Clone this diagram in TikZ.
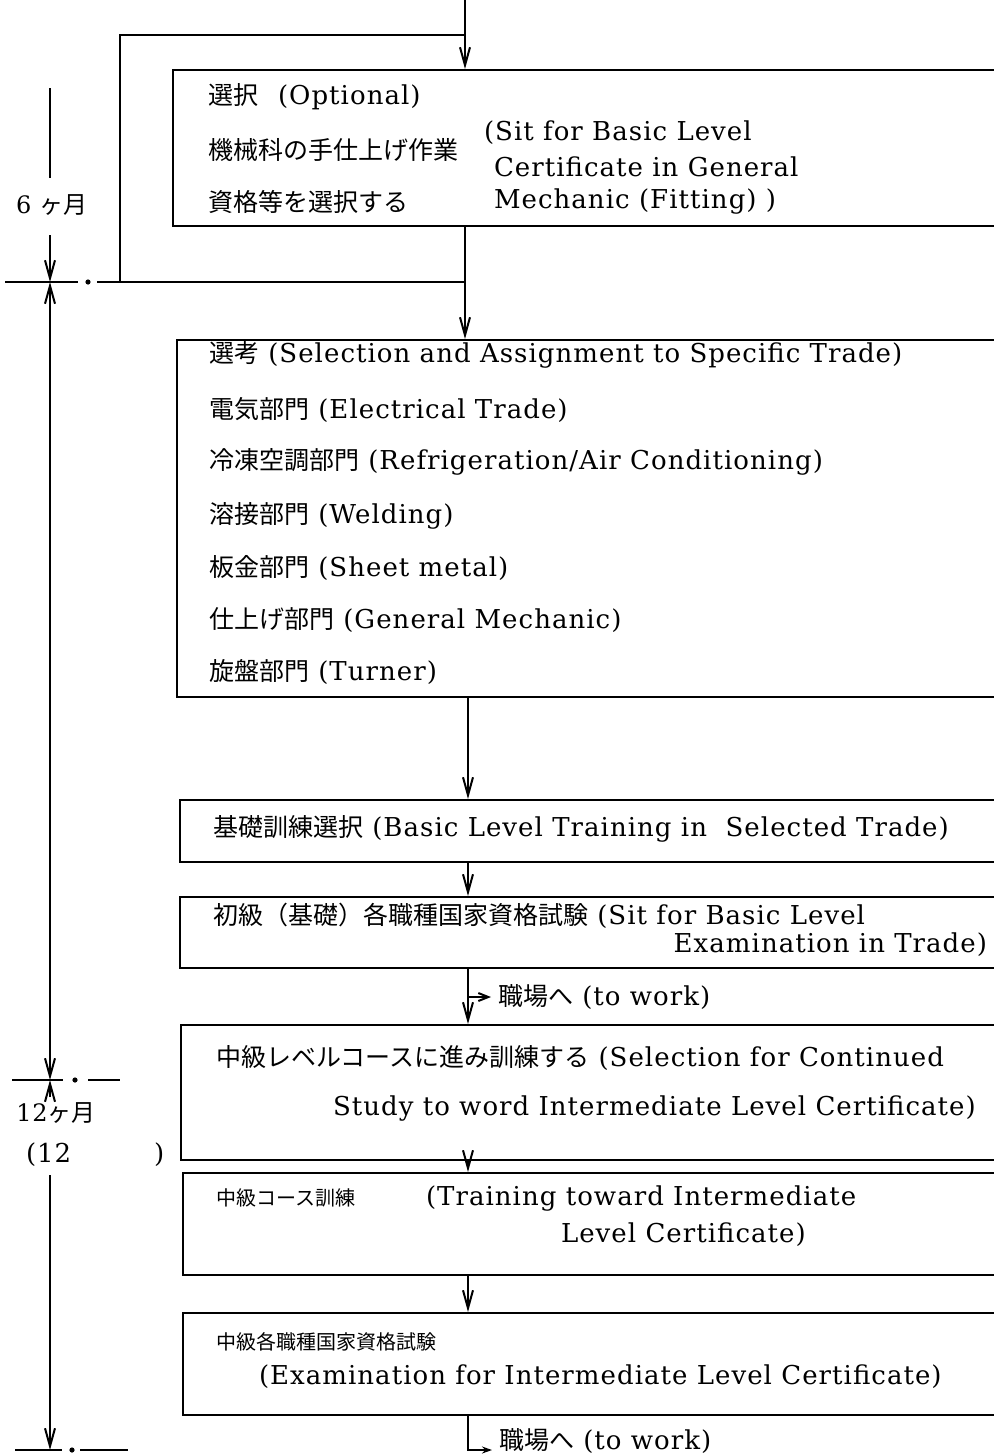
\documentclass[tikz,border=0pt]{standalone}
\usepackage{fontspec}
\setmainfont{DejaVu Serif}[LetterSpace=4]
\newfontfamily\jpfont{Noto Sans CJK JP}
\usetikzlibrary{arrows.meta,fit}
\newcommand\jtxt[1]{{\jpfont\fontsize{12.5}{14}\selectfont #1}}
\newcommand\jsml[1]{{\jpfont\fontsize{10}{12}\selectfont #1}}
\begin{document}
\begin{tikzpicture}[x=0.5pt,y=-0.5pt,line width=1pt,
  box/.style={draw,inner sep=0pt,line width=1pt},
  txt/.style={anchor=west,inner sep=0pt,font=\fontsize{13}{15}\selectfont},
  txe/.style={anchor=east,inner sep=0pt,font=\fontsize{13}{15}\selectfont},
  tl/.style={inner sep=0pt,font=\fontsize{12}{14}\selectfont},
  arr/.style={-{Straight Barb[length=9pt,width=5pt]}},
  arrb/.style={{Straight Barb[length=9pt,width=5pt]}-{Straight Barb[length=9pt,width=5pt]}},
  sarr/.style={-{Straight Barb[length=5pt,width=4pt]}}]
\useasboundingbox (0,0) rectangle (994,1456);

% boxes (open to the right edge)
\node[box,fit={(173,70)(1000,226)}] (b1) {};
\node[box,fit={(177,340)(1000,697)}] (b2) {};
\node[box,fit={(180,800)(1000,862)}] (b3) {};
\node[box,fit={(180,897)(1000,968)}] (b4) {};
\node[box,fit={(181,1025)(1000,1160)}] (b5) {};
\node[box,fit={(183,1173)(1000,1275)}] (b6) {};
\node[box,fit={(183,1313)(1000,1415)}] (b7) {};

% box 1 text
\node[txt] (t11) at (207,97) {\jtxt{選択}\hspace{10pt}(Optional)};
\node[txt] (t12) at (207,150) {\jtxt{機械科の手仕上げ作業}};
\node[txt] (t13) at (207,202) {\jtxt{資格等を選択する}};
\node[txt] (t14) at (483,133) {(Sit for Basic Level};
\node[txt] (t15) at (493,167) {Certificate in General};
\node[txt] (t16) at (493,202) {Mechanic (Fitting) )};

% box 2 text
\node[txt] (t21) at (208,355) {\jtxt{選考} (Selection and Assignment to Specific Trade)};
\node[txt] (t22) at (208,410) {\jtxt{電気部門} (Electrical Trade)};
\node[txt] (t23) at (208,462) {\jtxt{冷凍空調部門} (Refrigeration/Air Conditioning)};
\node[txt] (t24) at (208,516) {\jtxt{溶接部門} (Welding)};
\node[txt] (t25) at (208,568) {\jtxt{板金部門} (Sheet metal)};
\node[txt] (t26) at (208,620) {\jtxt{仕上げ部門} (General Mechanic)};
\node[txt] (t27) at (208,672) {\jtxt{旋盤部門} (Turner)};

% box 3..7 text
\node[txt] (t31) at (212,829) {\jtxt{基礎訓練選択} (Basic Level Training in\ \ Selected Trade)};
\node[txt] (t41) at (212,916) {\jtxt{初級（基礎）各職種国家資格試験} (Sit for Basic Level};
\node[txe] (t42) at (988,945) {Examination in Trade)};
\node[txt] (t51) at (215,1058) {\jtxt{中級レベルコースに進み訓練する} (Selection for Continued};
\node[txt] (t52) at (332,1108) {Study to word Intermediate Level Certificate)};
\node[txt] (t61) at (215,1198) {\jsml{中級コース訓練}};
\node[txt] (t62) at (425,1198) {(Training toward Intermediate};
\node[txt] (t63) at (560,1235) {Level Certificate)};
\node[txt] (t71) at (215,1342) {\jsml{中級各職種国家資格試験}};
\node[txt] (t72) at (258,1377) {(Examination for Intermediate Level Certificate)};

% main flow
\coordinate (top) at (465,0);
\coordinate (ax) at (465,0);
\coordinate (ax2) at (468,0);
\coordinate (lpA) at (465,35);
\coordinate (lpB) at (120,282);
\coordinate (lpC) at (465,282);
\draw[arr] (top) -- (b1.north -| top);
\draw (lpA) -| (lpB) -- (lpC);
\draw[arr] (b1.south -| ax) -- (b2.north -| ax);
\draw[arr] (b2.south -| ax2) -- (b3.north -| ax2);
\draw[arr] (b3.south -| ax2) -- (b4.north -| ax2);
\draw[arr] (b4.south -| ax2) -- (b5.north -| ax2);
\node[txt] (work1) at (497,997) {\jtxt{職場へ} (to work)};
\coordinate (w1) at (468,997);
\draw[sarr] (w1) -- ([xshift=-3pt]work1.west);
\draw[arr] (b5.south -| ax2) -- (b6.north -| ax2);
\draw[arr] (b6.south -| ax2) -- (b7.north -| ax2);
\node[txt] (work2) at (498,1441) {\jtxt{職場へ} (to work)};
\coordinate (w2) at (492,1450);
\draw[-{Stealth[length=5pt,width=3.5pt]}] (b7.south -| ax2) |- (w2);

% time line
\coordinate (tA) at (50,88);
\coordinate (tB) at (50,178);
\node[tl] (m6) at (52,205) {6 {\jpfont\fontsize{12}{14}\selectfont ヶ月}};
\coordinate (tC) at (50,235);
\coordinate (tD) at (50,282);
\coordinate (tE) at (50,1080);
\coordinate (tF) at (50,1097);
\node[tl] (m12) at (56,1113) {12{\jpfont\fontsize{12}{14}\selectfont ヶ月}};
\node[txt] (p12) at (25,1155) {(12};
\node[txt] (p12b) at (153,1155) {)};
\coordinate (tG) at (50,1175);
\coordinate (tH) at (50,1450);
\draw (tA) -- (tB);
\draw[arr] (tC) -- (tD);
\draw[arrb] (tD) -- (tE);
\draw[arr] (tF) -- (tE);
\draw[arr] (tG) -- (tH);

% dash-dot period marks
\draw (5,282) -- (78,282);
\fill (88,282) circle (1.3pt);
\draw (97,282) -- (lpB);
\draw (12,1080) -- (63,1080);
\fill (75,1080) circle (1.3pt);
\draw (88,1080) -- (120,1080);
\draw (15,1450) -- (62,1450);
\fill (72,1450) circle (1.3pt);
\draw (80,1450) -- (128,1450);
\end{tikzpicture}
\end{document}
